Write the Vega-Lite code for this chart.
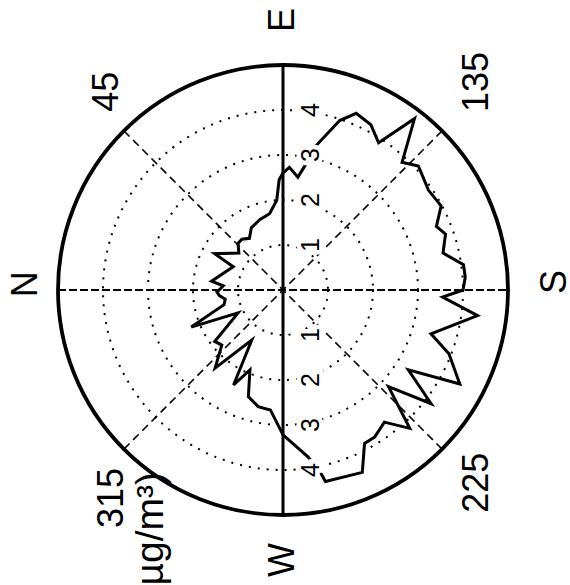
{
  "$schema": "https://vega.github.io/schema/vega-lite/v6.json",
  "width": 570,
  "height": 585,
  "padding": 0,
  "autosize": {"type": "none"},
  "background": "white",
  "config": {"view": {"stroke": null}, "axis": {"disable": true}},
  "datasets": {
    "conc": [
      {"theta": 0, "r": 1.42}, {"theta": 4, "r": 1.33}, {"theta": 7, "r": 1.6}, {"theta": 25, "r": 1.22},
      {"theta": 28, "r": 1.72}, {"theta": 40, "r": 1.28}, {"theta": 46, "r": 1.44}, {"theta": 51, "r": 1.45},
      {"theta": 57, "r": 1.37}, {"theta": 63, "r": 1.55}, {"theta": 72, "r": 1.65}, {"theta": 80, "r": 1.72},
      {"theta": 86, "r": 2.0}, {"theta": 88, "r": 2.45}, {"theta": 90, "r": 2.6}, {"theta": 93, "r": 2.73},
      {"theta": 97.5, "r": 2.53}, {"theta": 100, "r": 2.8}, {"theta": 103, "r": 3.3}, {"theta": 108.5, "r": 3.97},
      {"theta": 112.5, "r": 4.25}, {"theta": 118, "r": 4.16}, {"theta": 123, "r": 3.9}, {"theta": 127.5, "r": 4.8},
      {"theta": 133, "r": 3.88}, {"theta": 137.5, "r": 4.08}, {"theta": 145.5, "r": 3.92}, {"theta": 152, "r": 3.98},
      {"theta": 157.5, "r": 3.69}, {"theta": 161, "r": 3.82}, {"theta": 167, "r": 3.65}, {"theta": 172, "r": 4.05},
      {"theta": 176, "r": 4.06}, {"theta": 180, "r": 4.0}, {"theta": 182.5, "r": 3.55}, {"theta": 187.5, "r": 4.36},
      {"theta": 196.5, "r": 3.43}, {"theta": 201, "r": 3.95}, {"theta": 208, "r": 4.45}, {"theta": 212.5, "r": 3.3},
      {"theta": 217.5, "r": 4.15}, {"theta": 222.5, "r": 3.18}, {"theta": 227.5, "r": 4.17}, {"theta": 232.5, "r": 3.7},
      {"theta": 238, "r": 3.85}, {"theta": 242, "r": 3.86}, {"theta": 246.5, "r": 4.42}, {"theta": 257.5, "r": 4.36},
      {"theta": 258.5, "r": 4.12}, {"theta": 261.5, "r": 3.75}, {"theta": 270, "r": 3.22}, {"theta": 276, "r": 2.68},
      {"theta": 282, "r": 2.65}, {"theta": 288, "r": 2.49}, {"theta": 292.5, "r": 1.92}, {"theta": 297.5, "r": 2.38},
      {"theta": 302, "r": 1.31}, {"theta": 311, "r": 2.3}, {"theta": 318, "r": 1.83}, {"theta": 323, "r": 1.9},
      {"theta": 333, "r": 1.12}, {"theta": 338, "r": 2.2}, {"theta": 346, "r": 1.35}, {"theta": 351, "r": 1.3},
      {"theta": 355, "r": 1.42}, {"theta": 358.5, "r": 1.47}, {"theta": 360, "r": 1.42}
    ],
    "rings": [{"r": 1}, {"r": 2}, {"r": 3}, {"r": 4}],
    "outer": [{"r": 5}],
    "spokes": [
      {"theta": 0, "style": "ns"},
      {"theta": 45, "style": "diag"},
      {"theta": 135, "style": "diag"},
      {"theta": 90, "style": "ew"}
    ],
    "ringlabels": [
      {"label": "1", "r": 1, "theta": 90}, {"label": "2", "r": 2, "theta": 90},
      {"label": "3", "r": 3, "theta": 90}, {"label": "4", "r": 4, "theta": 90},
      {"label": "1", "r": 1, "theta": 270}, {"label": "2", "r": 2, "theta": 270},
      {"label": "3", "r": 3, "theta": 270}, {"label": "4", "r": 4, "theta": 270}
    ],
    "compass": [
      {"label": "N", "theta": 1.3, "r": 5.72},
      {"label": "E", "theta": 90, "r": 6.0},
      {"label": "S", "theta": 178.3, "r": 6.05},
      {"label": "W", "theta": 270, "r": 6.0},
      {"label": "45", "theta": 48.4, "r": 5.89},
      {"label": "135", "theta": 133, "r": 6.32},
      {"label": "225", "theta": 224.8, "r": 6.08},
      {"label": "315", "theta": 309.4, "r": 5.98}
    ],
    "unit": [{"label": "(µg/m³)", "theta": 306, "r": 5.0}]
  },
  "encoding": {
    "x": {"field": "px", "type": "quantitative", "axis": null, "scale": {"domain": [-6.28889, 6.37778], "nice": false, "zero": false}},
    "y": {"field": "py", "type": "quantitative", "axis": null, "scale": {"domain": [-6.55556, 6.44444], "nice": false, "zero": false}}
  },
  "layer": [
    {
      "data": {"name": "rings"},
      "transform": [{"calculate": "0", "as": "px"}, {"calculate": "0", "as": "py"}],
      "mark": {"type": "point", "shape": "circle", "filled": false, "stroke": "black", "strokeWidth": 2, "strokeDash": [2, 7], "opacity": 1},
      "encoding": {
        "size": {"field": "r", "type": "quantitative", "legend": null, "scale": {"type": "pow", "exponent": 2, "domain": [0, 5], "range": [0, 202500]}}
      }
    },
    {
      "data": {"name": "outer"},
      "transform": [{"calculate": "0", "as": "px"}, {"calculate": "0", "as": "py"}],
      "mark": {"type": "point", "shape": "circle", "filled": false, "stroke": "black", "strokeWidth": 3.8, "opacity": 1},
      "encoding": {
        "size": {"field": "r", "type": "quantitative", "legend": null, "scale": {"type": "pow", "exponent": 2, "domain": [0, 5], "range": [0, 202500]}}
      }
    },
    {
      "data": {"name": "spokes"},
      "transform": [
        {"filter": "datum.style === 'diag'"},
        {"calculate": "-5*cos(datum.theta*PI/180)", "as": "px"},
        {"calculate": "5*sin(datum.theta*PI/180)", "as": "py"},
        {"calculate": "-datum.px", "as": "px2"},
        {"calculate": "-datum.py", "as": "py2"}
      ],
      "mark": {"type": "rule", "stroke": "black", "strokeWidth": 1.6, "strokeDash": [8, 5]},
      "encoding": {"x2": {"field": "px2"}, "y2": {"field": "py2"}}
    },
    {
      "data": {"name": "spokes"},
      "transform": [
        {"filter": "datum.style === 'ns'"},
        {"calculate": "-5*cos(datum.theta*PI/180)", "as": "px"},
        {"calculate": "5*sin(datum.theta*PI/180)", "as": "py"},
        {"calculate": "-datum.px", "as": "px2"},
        {"calculate": "-datum.py", "as": "py2"}
      ],
      "mark": {"type": "rule", "stroke": "black", "strokeWidth": 2, "strokeDash": [8, 3]},
      "encoding": {"x2": {"field": "px2"}, "y2": {"field": "py2"}}
    },
    {
      "data": {"name": "spokes"},
      "transform": [
        {"filter": "datum.style === 'ew'"},
        {"calculate": "-5*cos(datum.theta*PI/180)", "as": "px"},
        {"calculate": "5*sin(datum.theta*PI/180)", "as": "py"},
        {"calculate": "-datum.px", "as": "px2"},
        {"calculate": "-datum.py", "as": "py2"}
      ],
      "mark": {"type": "rule", "stroke": "black", "strokeWidth": 3},
      "encoding": {"x2": {"field": "px2"}, "y2": {"field": "py2"}}
    },
    {
      "data": {"name": "conc"},
      "transform": [
        {"calculate": "-datum.r*cos(datum.theta*PI/180)", "as": "px"},
        {"calculate": "datum.r*sin(datum.theta*PI/180)", "as": "py"}
      ],
      "mark": {"type": "line", "stroke": "black", "strokeWidth": 3, "strokeJoin": "miter"},
      "encoding": {"order": {"field": "theta", "type": "quantitative"}}
    },
    {
      "data": {"name": "ringlabels"},
      "transform": [
        {"calculate": "-datum.r*cos(datum.theta*PI/180)", "as": "px"},
        {"calculate": "datum.r*sin(datum.theta*PI/180)", "as": "py"}
      ],
      "mark": {"type": "text", "angle": 270, "dy": 28, "font": "Liberation Sans", "fontSize": 25, "align": "center", "baseline": "middle", "fill": "white", "stroke": "white", "strokeWidth": 9},
      "encoding": {"text": {"field": "label"}}
    },
    {
      "data": {"name": "ringlabels"},
      "transform": [
        {"calculate": "-datum.r*cos(datum.theta*PI/180)", "as": "px"},
        {"calculate": "datum.r*sin(datum.theta*PI/180)", "as": "py"}
      ],
      "mark": {"type": "text", "angle": 270, "dy": 28, "font": "Liberation Sans", "fontSize": 25, "align": "center", "baseline": "middle", "fill": "black"},
      "encoding": {"text": {"field": "label"}}
    },
    {
      "data": {"name": "compass"},
      "transform": [
        {"calculate": "-datum.r*cos(datum.theta*PI/180)", "as": "px"},
        {"calculate": "datum.r*sin(datum.theta*PI/180)", "as": "py"}
      ],
      "mark": {"type": "text", "angle": 270, "font": "Liberation Sans", "fontSize": 36, "align": "center", "baseline": "middle", "fill": "black"},
      "encoding": {"text": {"field": "label"}}
    },
    {
      "data": {"name": "unit"},
      "transform": [
        {"calculate": "-datum.r*cos(datum.theta*PI/180)", "as": "px"},
        {"calculate": "datum.r*sin(datum.theta*PI/180)", "as": "py"}
      ],
      "mark": {"type": "text", "angle": 270, "font": "Liberation Sans", "fontSize": 39, "align": "right", "baseline": "middle", "fill": "black"},
      "encoding": {"text": {"field": "label"}}
    }
  ]
}
